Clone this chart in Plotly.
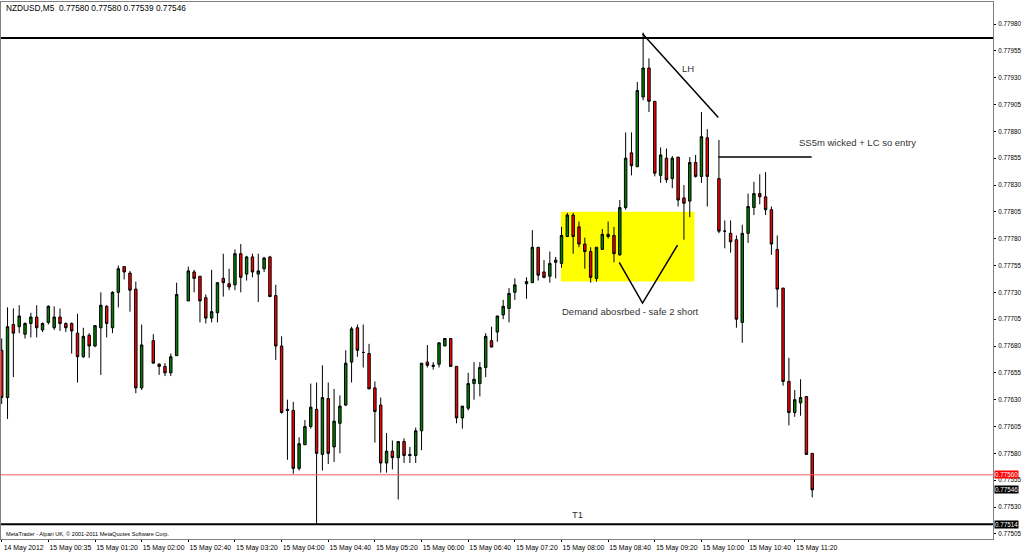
import plotly.graph_objects as go

# ---- data (NZDUSD M5) ----
opens = [0.77676,0.77632,0.77700,0.77698,0.77691,0.77701,0.77707,0.77695,0.77702,0.77697,
         0.77707,0.77701,0.77701,0.77692,0.77670,0.77690,0.77680,0.77697,0.77717,0.77697,
         0.77730,0.77754,0.77748,0.77733,0.77641,None,0.77685,0.77663,0.77661,0.77655,
         0.77671,None,0.77722,0.77749,0.77745,0.77725,0.77706,0.77711,0.77743,0.77738,
         0.77737,0.77766,0.77747,0.77763,0.77747,0.77752,0.77763,0.77727,0.77680,0.77621,
         0.77620,0.77566,0.77588,0.77605,0.77621,0.77579,0.77631,0.77586,0.77608,0.77625,
         0.77665,0.77697,0.77674,0.77673,0.77641,0.77625,0.77571,0.77582,0.77576,0.77591,
         0.77579,0.77578,0.77601,0.77665,0.77661,0.77663,0.77680,0.77687,0.77661,0.77613,
         0.77622,0.77645,0.77645,0.77660,0.77685,0.77693,0.77709,0.77715,0.77730,None,
         0.77738,0.77739,0.77772,0.77749,0.77745,0.77758,0.77757,0.77782,0.77802,0.77791,
         0.77775,0.77768,0.77743,0.77770,0.77782,0.77783,0.77765,0.77809,0.77860,0.77847,
         0.77912,0.77939,0.77908,0.77839,0.77855,0.77836,0.77856,0.77818,0.77815,0.77851,
         0.77838,0.77874,None,0.77836,0.77787,0.77785,0.77779,0.77702,0.77785,0.77809,
         0.77822,0.77819,0.77807,0.77770,0.77734,0.77647,0.77618,0.77627,0.77633,0.77580]
highs = [0.77687,0.77716,0.77715,0.77718,0.77702,0.77711,0.77718,0.77702,0.77718,0.77717,
         0.77715,0.77702,0.77702,0.77710,0.77697,0.77692,0.77699,0.77730,0.77718,0.77731,
         0.77755,0.77754,0.77750,0.77740,0.77700,None,0.77691,0.77664,0.77664,0.77673,
         0.77739,None,0.77754,0.77751,0.77745,0.77728,0.77751,0.77739,0.77766,0.77752,
         0.77770,0.77775,0.77764,0.77766,0.77766,0.77763,0.77764,0.77737,0.77689,0.77630,
         0.77628,0.77595,0.77611,0.77645,0.77646,0.77662,0.77646,0.77640,0.77634,0.77676,
         0.77698,0.77700,0.77700,0.77682,0.77647,0.77632,0.77599,0.77592,0.77591,0.77594,
         0.77586,0.77604,0.77664,0.77681,0.77665,0.77683,0.77687,0.77687,0.77661,0.77624,
         0.77655,0.77665,0.77665,0.77692,0.77698,0.77708,0.77723,0.77734,0.77743,None,
         0.77744,0.77788,0.77772,0.77760,0.77768,0.77763,0.77791,0.77804,0.77804,0.77796,
         0.77781,0.77772,0.77772,0.77789,0.77796,0.77791,0.77816,0.77879,0.77879,0.77926,
         0.77972,0.77948,0.77908,0.77865,0.77864,0.77857,0.77856,0.77830,0.77856,0.77858,
         0.77898,0.77882,None,0.77872,0.77797,0.77797,0.77783,0.77793,0.77822,0.77833,
         0.77840,0.77842,0.77810,0.77783,0.77734,0.77669,0.77639,0.77649,0.77633,0.77580]
lows = [0.77626,0.77612,0.77651,0.77692,0.77687,0.77688,0.77688,0.77693,0.77700,0.77695,
        0.77694,0.77693,0.77673,0.77646,0.77669,0.77669,0.77679,0.77653,0.77688,0.77692,
        0.77716,0.77742,0.77712,0.77636,0.77639,None,0.77664,0.77653,0.77652,0.77652,
        0.77671,None,0.77722,0.77730,0.77702,0.77701,0.77702,0.77702,0.77726,0.77732,
        0.77732,0.77730,0.77741,0.77744,0.77721,0.77749,0.77726,0.77667,0.77617,0.77574,
        0.77561,0.77564,0.77588,0.77603,0.77514,0.77564,0.77570,0.77572,0.77580,0.77624,
        0.77646,0.77670,0.77660,0.77640,0.77590,0.77562,0.77562,0.77565,0.77537,0.77571,
        0.77571,0.77571,0.77583,0.77660,0.77658,0.77660,0.77680,0.77661,0.77608,0.77603,
        0.77620,0.77630,0.77633,0.77651,0.77679,0.77684,0.77705,0.77702,0.77723,None,
        0.77724,0.77739,0.77741,0.77743,0.77739,0.77743,0.77753,0.77782,0.77766,0.77772,
        0.77752,0.77739,0.77740,0.77770,0.77780,0.77758,0.77764,0.77807,0.77839,0.77847,
        0.77909,0.77898,0.77838,0.77832,0.77832,0.77827,0.77810,0.77779,0.77800,0.77837,
        0.77832,0.77810,None,0.77785,0.77771,0.77767,0.77697,0.77683,0.77776,0.77802,
        0.77812,0.77802,0.77765,0.77716,0.77643,0.77606,0.77614,0.77615,0.77579,0.77539]
closes = [0.77632,0.77698,0.77692,0.77708,0.77701,0.77707,0.77697,0.77701,0.77717,0.77707,
          0.77701,0.77697,0.77694,0.77670,0.77689,0.77680,0.77699,0.77718,0.77701,0.77730,
          0.77752,0.77749,0.77732,0.77641,0.77681,None,0.77664,0.77661,0.77655,0.77670,
          0.77728,None,0.77750,0.77743,0.77722,0.77706,0.77712,0.77739,0.77739,0.77735,
          0.77766,0.77744,0.77763,0.77749,0.77750,0.77762,0.77726,0.77680,0.77618,0.77620,
          0.77566,0.77589,0.77605,0.77623,0.77580,0.77632,0.77580,0.77610,0.77624,0.77664,
          0.77696,0.77676,0.77674,0.77640,0.77619,0.77571,0.77582,0.77576,0.77591,0.77578,
          0.77578,0.77601,0.77664,0.77662,0.77662,0.77683,0.77687,0.77661,0.77613,0.77624,
          0.77645,0.77649,0.77660,0.77689,0.77679,0.77708,0.77717,0.77729,0.77737,None,
          0.77740,0.77772,0.77746,0.77744,0.77757,0.77760,0.77783,0.77802,0.77782,0.77775,
          0.77768,0.77744,0.77772,0.77784,0.77784,0.77766,0.77809,0.77855,0.77848,0.77918,
          0.77939,0.77908,0.77841,0.77858,0.77835,0.77855,0.77816,0.77813,0.77851,0.77838,
          0.77875,0.77838,None,0.77787,0.77787,0.77777,0.77705,0.77785,0.77810,0.77822,
          0.77819,0.77807,0.77775,0.77733,0.77647,0.77618,0.77630,0.77632,0.77579,0.77546]

tick_bars = [0, 8, 16, 24, 32, 40, 48, 56, 64, 72, 80, 88, 96, 104, 112, 120, 128, 136]
tick_labels = ["14 May 2012", "15 May 00:35", "15 May 01:20", "15 May 02:00", "15 May 02:40",
               "15 May 03:20", "15 May 04:00", "15 May 04:40", "15 May 05:20", "15 May 06:00",
               "15 May 06:40", "15 May 07:20", "15 May 08:00", "15 May 08:40", "15 May 09:20",
               "15 May 10:00", "15 May 10:40", "15 May 11:20"]

top_level = 0.77967
bottom_level = 0.77514
ask_level = 0.77560
last_close = 0.77546
zone_x = [95.9, 118.8]
zone_y = [0.77740, 0.77805]
lh_x = [109.9, 122.9]
lh_y = [0.77971, 0.77893]
entry_x = [122.9, 138.9]
entry_y = [0.77856, 0.77856]
v_x = [105.9, 109.9, 115.9]
v_y = [0.77758, 0.77720, 0.77774]

FONT = "Liberation Sans, Arial, sans-serif"

# ---- figure ----
idx = [i for i in range(len(opens)) if opens[i] is not None]
fig = go.Figure(go.Candlestick(
    x=idx,
    open=[opens[i] for i in idx], high=[highs[i] for i in idx],
    low=[lows[i] for i in idx], close=[closes[i] for i in idx],
    increasing=dict(fillcolor="#008000", line=dict(color="#000000", width=1)),
    decreasing=dict(fillcolor="#ff0000", line=dict(color="#000000", width=1)),
    whiskerwidth=0, showlegend=False, hoverinfo="skip"))

fig.add_shape(type="rect", x0=zone_x[0], x1=zone_x[1], y0=zone_y[0], y1=zone_y[1],
              fillcolor="#ffff00", line=dict(width=0), layer="below")
for lvl, col, w in [(top_level, "#000000", 2), (bottom_level, "#000000", 2), (ask_level, "#ff5a5a", 1)]:
    fig.add_shape(type="line", xref="paper", x0=0, x1=1, y0=lvl, y1=lvl,
                  line=dict(color=col, width=w), layer="above")
fig.add_shape(type="line", x0=lh_x[0], x1=lh_x[1], y0=lh_y[0], y1=lh_y[1],
              line=dict(color="#000000", width=1.5))
fig.add_shape(type="line", x0=entry_x[0], x1=entry_x[1], y0=entry_y[0], y1=entry_y[1],
              line=dict(color="#000000", width=1.5))
fig.add_trace(go.Scatter(x=v_x, y=v_y, mode="lines", line=dict(color="#000000", width=1.5),
                         showlegend=False, hoverinfo="skip"))

txt = dict(family=FONT, size=9.5, color="#333333")
fig.add_annotation(x=117.7, y=0.77939, text="LH", showarrow=False, font=txt)
fig.add_annotation(x=146.8, y=0.77870, text="SS5m wicked + LC so entry", showarrow=False, font=txt)
fig.add_annotation(x=107.8, y=0.77712, text="Demand abosrbed - safe 2 short", showarrow=False, font=txt)
fig.add_annotation(x=98.7, y=0.77523, text="T1", showarrow=False, font=txt)

fig.add_annotation(xref="paper", yref="paper", x=0, y=1, xanchor="left", yanchor="top",
                   xshift=3, yshift=1, showarrow=False,
                   font=dict(family=FONT, size=8.3, color="#000000"),
                   text="NZDUSD,M5  0.77580 0.77580 0.77539 0.77546")
fig.add_annotation(xref="paper", yref="paper", x=0, y=0, xanchor="left", yanchor="bottom",
                   xshift=3, yshift=0, showarrow=False,
                   font=dict(family=FONT, size=5.6, color="#000000"),
                   text="MetaTrader - Alpari UK, © 2001-2011 MetaQuotes Software Corp.")

for lvl, bg in [(ask_level, "#ff0000"), (last_close, "#000000"), (bottom_level, "#000000")]:
    fig.add_annotation(xref="paper", x=1, y=lvl, xanchor="left", yanchor="middle", xshift=1,
                       text=f"{lvl:.5f}", showarrow=False, bgcolor=bg, borderpad=0,
                       font=dict(family=FONT, size=6.3, color="#ffffff"))

fig.update_layout(
    width=1022, height=553,
    margin=dict(l=1, r=29, t=2, b=14, autoexpand=False),
    paper_bgcolor="#ffffff", plot_bgcolor="#ffffff",
    boxgap=0.4,
    xaxis=dict(range=[-0.12, 170.0], rangeslider=dict(visible=False), showgrid=False, zeroline=False,
               automargin=False, tickangle=0,
               tickmode="array", tickvals=tick_bars, ticktext=tick_labels,
               ticks="outside", ticklen=2, tickcolor="#000000",
               ticklabelshift=22, ticklabelstandoff=0,
               tickfont=dict(family=FONT, size=6.9, color="#000000"),
               showline=True, linecolor="#808080", linewidth=1, mirror=True),
    yaxis=dict(range=[0.775002, 0.780005], side="right", showgrid=False, zeroline=False,
               automargin=False,
               tick0=0.77505, dtick=0.00025, tickformat=".5f",
               ticks="outside", ticklen=2, tickcolor="#000000",
               ticklabelstandoff=1,
               tickfont=dict(family=FONT, size=6.3, color="#000000"),
               showline=True, linecolor="#808080", linewidth=1, mirror=True),
)

fig.write_html("out.html", config={"responsive": False, "displayModeBar": False},
               post_script="document.body.style.margin='0';document.body.style.padding='0';")
